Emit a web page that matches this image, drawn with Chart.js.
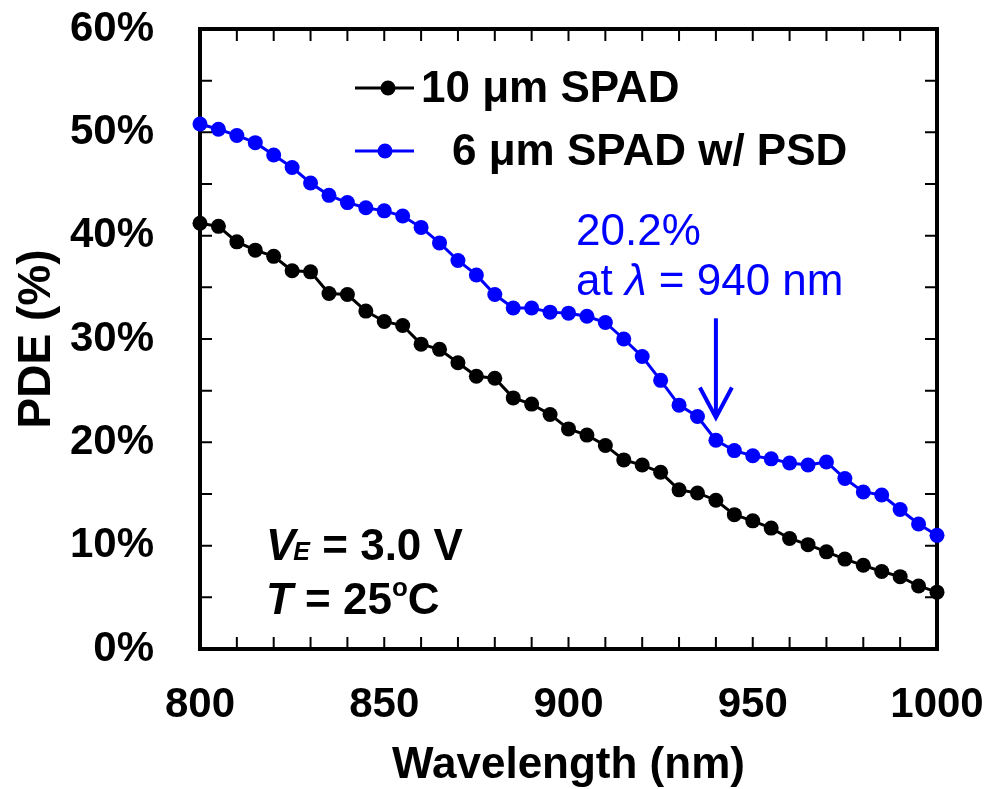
<!DOCTYPE html>
<html>
<head>
<meta charset="utf-8">
<script src="https://cdn.jsdelivr.net/npm/chart.js@4.4.1/dist/chart.umd.min.js"></script>
<style>
  html, body { margin: 0; padding: 0; background: #fff; }
</style>
</head>
<body>
<canvas id="pdeCanvas" width="993" height="789"></canvas>
<script>
// wavelength (nm), every 5 nm
const wavelength = [800, 805, 810, 815, 820, 825, 830, 835, 840, 845,
                    850, 855, 860, 865, 870, 875, 880, 885, 890, 895,
                    900, 905, 910, 915, 920, 925, 930, 935, 940, 945,
                    950, 955, 960, 965, 970, 975, 980, 985, 990, 995, 1000]

// PDE (%)
const pde10um = [41.2, 40.9, 39.4, 38.6, 38.0, 36.6, 36.5, 34.4, 34.3, 32.7,
                 31.7, 31.3, 29.5, 29.0, 27.7, 26.4, 26.2, 24.3, 23.7, 22.7,
                 21.3, 20.7, 19.7, 18.3, 17.8, 17.1, 15.4, 15.1, 14.4, 13.0,
                 12.4, 11.7, 10.7, 10.1, 9.4, 8.7, 8.1, 7.5, 7.0, 6.1, 5.5]

const pde6umPsd = [50.8, 50.3, 49.7, 49.0, 47.8, 46.6, 45.1, 43.9, 43.2, 42.7,
                   42.4, 41.9, 40.8, 39.3, 37.6, 36.2, 34.3, 33.0, 33.0, 32.6,
                   32.5, 32.2, 31.6, 30.0, 28.3, 26.0, 23.6, 22.5, 20.2, 19.2,
                   18.7, 18.4, 18.0, 17.8, 18.1, 16.5, 15.2, 14.9, 13.5, 12.1, 11.0]

const seriesNames = ['10 μm SPAD', '6 μm SPAD w/ PSD']
const seriesColors = ['#000000', '#0000ff']

const xTickValues = [800, 850, 900, 950, 1000]
const yTickValues = [0, 10, 20, 30, 40, 50, 60]
const xMinorStep = 10
const yMinorStep = 5

const markWavelength = 940
const markText = ['20.2%', 'at ', 'λ', ' = 940 nm']

const FONT = '"Liberation Sans", Arial, sans-serif'

//------------------------------------------------------------------------------
// box frame with inward ticks on all four sides, plus legend and notes
//------------------------------------------------------------------------------
const framePlugin = {
    id: 'frame',
    beforeDatasetsDraw(chart) {
        const ctx = chart.ctx
        const a = chart.chartArea
        const xs = chart.scales.x
        const ys = chart.scales.y
        ctx.save()
        ctx.strokeStyle = '#000'
        ctx.lineWidth = 2
        const tick = 12
        for (let v = xs.min; v <= xs.max; v += xMinorStep) {
            const px = xs.getPixelForValue(v)
            ctx.beginPath()
            ctx.moveTo(px, a.bottom); ctx.lineTo(px, a.bottom - tick)
            ctx.moveTo(px, a.top); ctx.lineTo(px, a.top + tick)
            ctx.stroke()
        }
        for (let v = ys.min; v <= ys.max; v += yMinorStep) {
            const py = ys.getPixelForValue(v)
            ctx.beginPath()
            ctx.moveTo(a.left, py); ctx.lineTo(a.left + tick, py)
            ctx.moveTo(a.right, py); ctx.lineTo(a.right - tick, py)
            ctx.stroke()
        }
        ctx.lineWidth = 4
        ctx.strokeRect(a.left, a.top, a.right - a.left, a.bottom - a.top)
        ctx.restore()
    },
    afterDraw(chart) {
        const ctx = chart.ctx
        const xs = chart.scales.x
        const ys = chart.scales.y
        ctx.save()

        // legend
        ctx.textBaseline = 'middle'
        ctx.textAlign = 'left'
        ctx.font = 'bold 44px ' + FONT
        const legendRows = [
            { y: 88, x0: 355, x1: 414, dot: 388, tx: 421 },
            { y: 151, x0: 355, x1: 414, dot: 385, tx: 452 }
        ]
        legendRows.forEach((r, i) => {
            ctx.strokeStyle = seriesColors[i]
            ctx.fillStyle = seriesColors[i]
            ctx.lineWidth = 3
            ctx.beginPath(); ctx.moveTo(r.x0, r.y); ctx.lineTo(r.x1, r.y); ctx.stroke()
            ctx.beginPath(); ctx.arc(r.dot, r.y, 7.5, 0, Math.PI * 2); ctx.fill()
            ctx.fillStyle = '#000'
            ctx.fillText(seriesNames[i], r.tx, r.y + 2)
        })

        // 20.2% at lambda = 940 nm
        ctx.fillStyle = '#0000ff'
        ctx.font = '44px ' + FONT
        ctx.fillText(markText[0], 576, 233)
        let tx = 576
        ctx.fillText(markText[1], tx, 283); tx += ctx.measureText(markText[1]).width
        ctx.font = 'italic 44px ' + FONT
        ctx.fillText(markText[2], tx, 283); tx += ctx.measureText(markText[2]).width
        ctx.font = '44px ' + FONT
        ctx.fillText(markText[3], tx, 283)

        // arrow down to the 940 nm point
        const ax = xs.getPixelForValue(markWavelength)
        const aTop = ys.getPixelForValue(32.0)
        const aTip = ys.getPixelForValue(22.4)
        ctx.strokeStyle = '#0000ff'
        ctx.lineWidth = 4
        ctx.beginPath(); ctx.moveTo(ax, aTop); ctx.lineTo(ax, aTip); ctx.stroke()
        ctx.beginPath()
        ctx.moveTo(ax - 16, aTip - 30); ctx.lineTo(ax, aTip); ctx.lineTo(ax + 16, aTip - 30)
        ctx.stroke()

        // conditions
        ctx.textBaseline = 'alphabetic'
        ctx.fillStyle = '#000'
        let cx = 266
        ctx.font = 'italic bold 44px ' + FONT
        ctx.fillText('V', cx, 560); cx += ctx.measureText('V').width - 2
        ctx.font = 'italic bold 25px ' + FONT
        ctx.fillText('E', cx, 560); cx += ctx.measureText('E').width
        ctx.font = 'bold 44px ' + FONT
        ctx.fillText(' = 3.0 V', cx, 560)

        cx = 266
        ctx.font = 'italic bold 44px ' + FONT
        ctx.fillText('T', cx, 614); cx += ctx.measureText('T').width
        ctx.font = 'bold 44px ' + FONT
        ctx.fillText(' = 25', cx, 614); cx += ctx.measureText(' = 25').width
        ctx.font = 'bold 26px ' + FONT
        ctx.fillText('o', cx, 596); cx += ctx.measureText('o').width
        ctx.font = 'bold 44px ' + FONT
        ctx.fillText('C', cx, 614)

        ctx.restore()
    }
}

const pdeChart = new Chart(document.getElementById('pdeCanvas'), {
    type: 'line',
    data: {
        datasets: [
            {
                label: seriesNames[0],
                data: wavelength.map((w, i) => ({ x: w, y: pde10um[i] })),
                borderColor: seriesColors[0],
                backgroundColor: seriesColors[0],
                borderWidth: 3,
                pointRadius: 7.5,
                pointBorderWidth: 0,
                clip: false
            },
            {
                label: seriesNames[1],
                data: wavelength.map((w, i) => ({ x: w, y: pde6umPsd[i] })),
                borderColor: seriesColors[1],
                backgroundColor: seriesColors[1],
                borderWidth: 3,
                pointRadius: 7.5,
                pointBorderWidth: 0,
                clip: false
            }
        ]
    },
    options: {
        responsive: false,
        animation: false,
        layout: { padding: { left: 0, right: 56, top: 29, bottom: 0 } },
        plugins: { legend: { display: false }, tooltip: { enabled: false } },
        scales: {
            x: {
                type: 'linear',
                min: 800,
                max: 1000,
                afterBuildTicks: s => { s.ticks = xTickValues.map(v => ({ value: v })) },
                afterFit: s => { s.height = 140; s.paddingLeft = 0; s.paddingRight = 0 },
                grid: { display: false },
                border: { display: false },
                ticks: {
                    color: '#000',
                    padding: 23,
                    maxRotation: 0,
                    callback: v => String(v),
                    font: { family: FONT, size: 42, weight: 'bold' }
                },
                title: {
                    display: true,
                    text: 'Wavelength (nm)',
                    color: '#000',
                    padding: { top: 0, bottom: -3 },
                    font: { family: FONT, size: 44, weight: 'bold' }
                }
            },
            y: {
                min: 0,
                max: 60,
                afterBuildTicks: s => { s.ticks = yTickValues.map(v => ({ value: v })) },
                afterFit: s => { s.width = 200; s.paddingTop = 0; s.paddingBottom = 0 },
                grid: { display: false },
                border: { display: false },
                ticks: {
                    color: '#000',
                    padding: 38,
                    callback: v => v + '%',
                    font: { family: FONT, size: 42, weight: 'bold' }
                },
                title: {
                    display: true,
                    text: 'PDE (%)',
                    color: '#000',
                    padding: { top: 10, bottom: 0 },
                    font: { family: FONT, size: 46, weight: 'bold' }
                }
            }
        }
    },
    plugins: [framePlugin]
})
</script>
</body>
</html>
